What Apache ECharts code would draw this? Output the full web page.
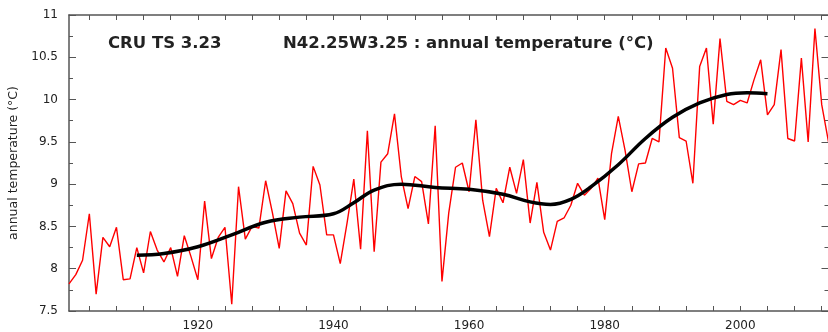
<!DOCTYPE html>
<html>
<head>
<meta charset="utf-8">
<title>CRU TS 3.23 annual temperature</title>
<script src="https://cdn.jsdelivr.net/npm/echarts@6/dist/echarts.min.js"></script>
<style>
  html, body { margin: 0; padding: 0; background: #fff; }
  #chart { width: 828px; height: 332px; }
</style>
</head>
<body>
<div id="chart"></div>
<script>
// annual temperature, one value per year from firstYear
const firstYear = 1901
const annualTemp = [
  7.82, 7.93, 8.10, 8.65, 7.70, 8.37, 8.26, 8.49, 7.87, 7.88,
  8.25, 7.95, 8.44, 8.22, 8.08, 8.25, 7.91, 8.39, 8.14, 7.87,
  8.80, 8.12, 8.37, 8.49, 7.58, 8.97, 8.35, 8.50, 8.48, 9.04,
  8.66, 8.24, 8.92, 8.77, 8.42, 8.28, 9.21, 8.99, 8.40, 8.40,
  8.06, 8.54, 9.06, 8.23, 9.63, 8.20, 9.26, 9.36, 9.83, 9.09,
  8.71, 9.09, 9.03, 8.53, 9.69, 7.85, 8.66, 9.20, 9.25, 8.91,
  9.76, 8.81, 8.38, 8.95, 8.78, 9.20, 8.89, 9.29, 8.54, 9.02,
  8.43, 8.22, 8.56, 8.60, 8.75, 9.01, 8.87, 8.95, 9.07, 8.58,
  9.36, 9.80, 9.40, 8.91, 9.24, 9.25, 9.54, 9.50, 10.61, 10.37,
  9.55, 9.51, 9.01, 10.39, 10.61, 9.71, 10.72, 9.98, 9.94, 9.99,
  9.96, 10.23, 10.47, 9.82, 9.94, 10.59, 9.54, 9.51, 10.49, 9.50,
  10.84, 9.94, 9.50,
]

// smoothed curve, read at these years
const smoothYears = [1911, 1915, 1920, 1925, 1930, 1935, 1940, 1943, 1946, 1950, 1955, 1960,
  1965, 1969, 1972, 1975, 1978, 1982, 1986, 1990, 1994, 1998, 2001, 2004]
const smoothTemp = [8.16, 8.18, 8.26, 8.40, 8.55, 8.61, 8.65, 8.78, 8.93, 9.00, 8.96, 8.94,
  8.88, 8.79, 8.76, 8.82, 8.97, 9.23, 9.54, 9.79, 9.96, 10.06, 10.08, 10.07]

const yearLabels = [1920, 1940, 1960, 1980, 2000]
const yearTicks = [1904, 1908, 1912, 1916, 1920, 1924, 1928, 1932, 1936, 1940, 1944, 1948,
  1952, 1956, 1960, 1964, 1968, 1972, 1976, 1980, 1984, 1988, 1992, 1996, 2000, 2004, 2008, 2012]

const axisColor = '#555'
const textColor = '#222'
const font = 'DejaVu Sans'

const chart = echarts.init(document.getElementById('chart'))

const xCommon = {
  type: 'value',
  min: 1901,
  max: 2013,
  axisLine: { show: true, lineStyle: { color: axisColor, width: 1.5 } },
  axisTick: { show: true, inside: true, length: 5, customValues: yearTicks, lineStyle: { color: axisColor, width: 1 } },
  splitLine: { show: false },
}

const yCommon = {
  type: 'value',
  min: 7.5,
  max: 11,
  interval: 0.5,
  axisLine: { show: true, lineStyle: { color: axisColor, width: 1.5 } },
  axisTick: { show: true, inside: true, length: 7, lineStyle: { color: axisColor, width: 1 } },
  minorTick: { show: true, splitNumber: 2, length: 4, lineStyle: { color: axisColor, width: 1 } },
  splitLine: { show: false },
}

chart.setOption({
  animation: false,
  backgroundColor: '#fff',
  grid: { left: 69, top: 15, width: 759.5, height: 296, containLabel: false, outerBoundsMode: 'none' },
  xAxis: [
    {
      ...xCommon,
      position: 'bottom',
      axisLabel: {
        show: true, customValues: yearLabels, margin: 9,
        formatter: (v) => String(v),
        color: textColor, fontFamily: font, fontSize: 12,
      },
    },
    { ...xCommon, position: 'top', axisLabel: { show: false } },
  ],
  yAxis: [
    {
      ...yCommon,
      position: 'left',
      name: 'annual temperature (°C)',
      nameLocation: 'middle',
      nameGap: 46,
      nameTextStyle: { color: textColor, fontFamily: font, fontSize: 12.5 },
      axisLabel: {
        show: true, margin: 11, showMinLabel: true, showMaxLabel: true,
        color: textColor, fontFamily: font, fontSize: 12,
      },
    },
    { ...yCommon, position: 'right', axisLabel: { show: false } },
  ],
  graphic: [
    {
      type: 'text', x: 108, y: 44,
      style: { text: 'CRU TS 3.23', font: 'bold 16.5px "DejaVu Sans"', fill: textColor, verticalAlign: 'middle' },
    },
    {
      type: 'text', x: 283, y: 44,
      style: { text: 'N42.25W3.25 : annual temperature (°C)', font: 'bold 16.5px "DejaVu Sans"', fill: textColor, verticalAlign: 'middle' },
    },
  ],
  series: [
    {
      name: 'annual',
      type: 'line',
      xAxisIndex: 0,
      yAxisIndex: 0,
      showSymbol: false,
      clip: true,
      lineStyle: { color: '#ff0000', width: 1.4 },
      data: annualTemp.map((v, i) => [firstYear + i, v]),
      z: 2,
    },
    {
      name: 'smoothed',
      type: 'line',
      xAxisIndex: 0,
      yAxisIndex: 0,
      showSymbol: false,
      smooth: 0.4,
      lineStyle: { color: '#000', width: 3.5 },
      data: smoothYears.map((y, i) => [y, smoothTemp[i]]),
      z: 3,
    },
  ],
})
</script>
</body>
</html>
